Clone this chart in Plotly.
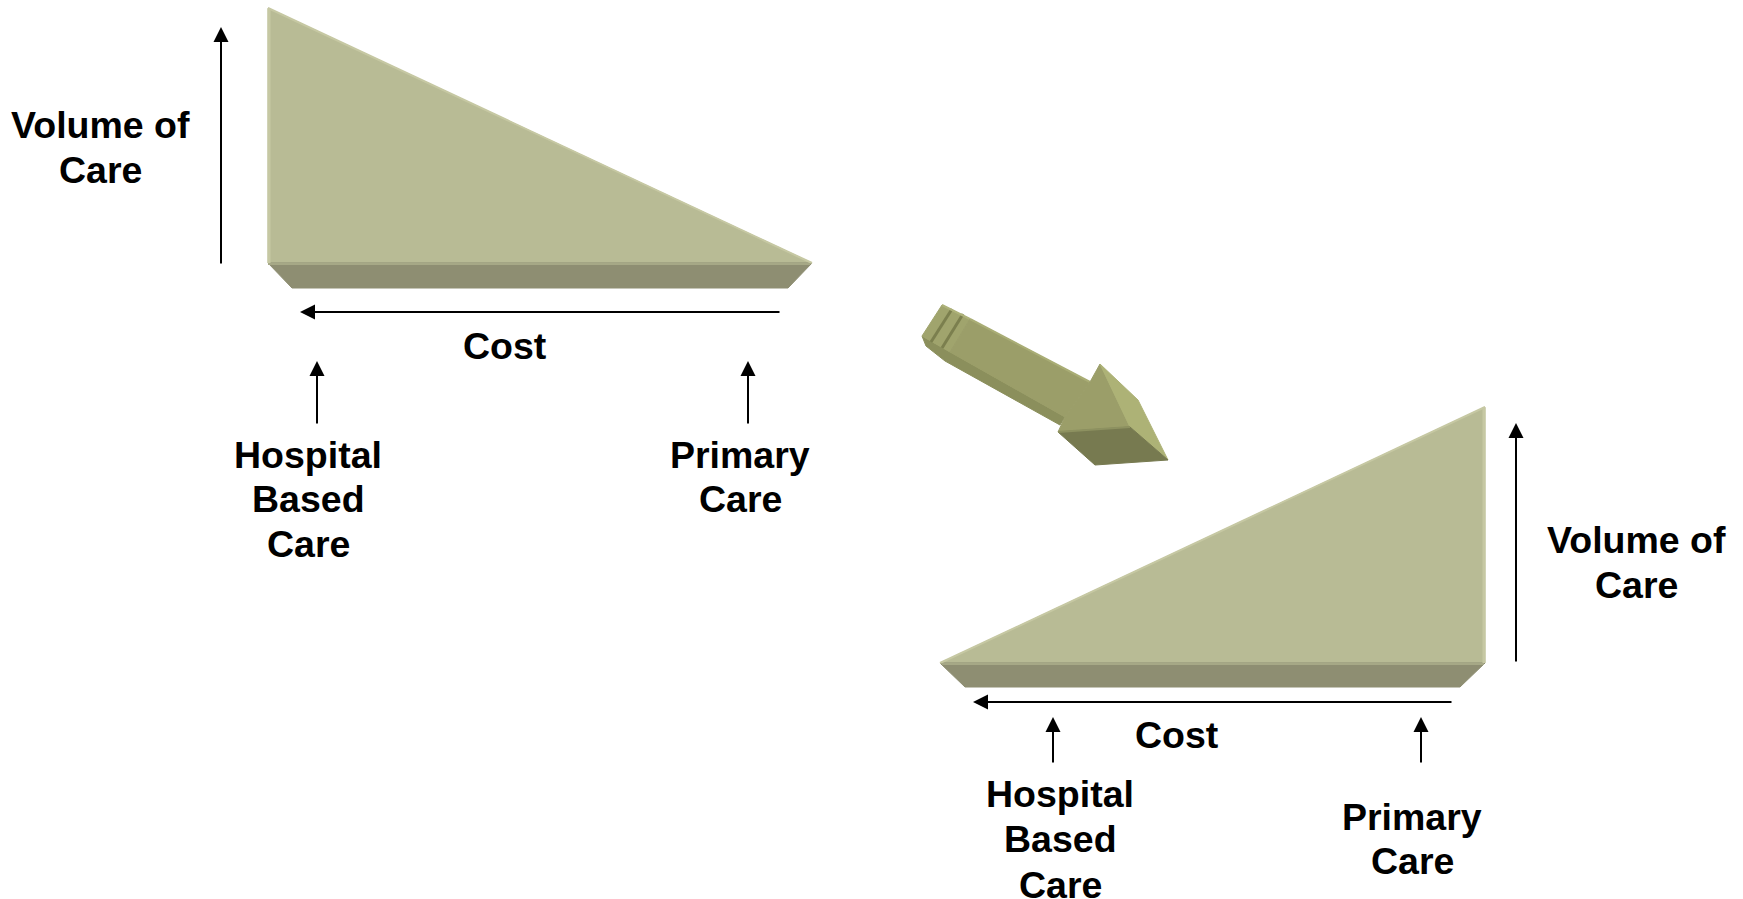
import plotly.graph_objects as go

# ---- text content ----
volume_lines = ["Volume of", "Care"]
cost_label = "Cost"
hospital_lines = ["Hospital", "Based", "Care"]
primary_lines = ["Primary", "Care"]

W, H = 1743, 899
FACE = "#b8bb95"
BASE = "#8e8e72"
EDGE = "#c6c8a3"
SHAFT = "#9b9e69"
SHAFT_SIDE = "#8b8f5c"
HEAD_RIGHT = "#adb276"
HEAD_FRONT = "#777a50"
TAIL = "#a0a46d"

fig = go.Figure()


def poly(pts, color, lw=1):
    xs = [p[0] for p in pts] + [pts[0][0]]
    ys = [p[1] for p in pts] + [pts[0][1]]
    fig.add_trace(go.Scatter(x=xs, y=ys, mode="lines", fill="toself",
                             fillcolor=color,
                             line=dict(color=color, width=lw),
                             hoverinfo="skip", showlegend=False))


def seg(p, q, color, lw):
    fig.add_trace(go.Scatter(x=[p[0], q[0]], y=[p[1], q[1]], mode="lines",
                             line=dict(color=color, width=lw),
                             hoverinfo="skip", showlegend=False))


# ---- triangle 1 (upper left) ----
poly([(268, 8), (812, 263), (268, 263)], FACE)
poly([(268, 263), (812, 263), (788, 288), (292, 288)], BASE)
seg((269, 9), (269, 263), EDGE, 3)
seg((268, 8), (812, 263), EDGE, 2)
seg((268, 264), (810, 264), "#a6a886", 2)

# ---- triangle 2 (lower right) ----
poly([(1485, 407), (1485, 663), (940, 663)], FACE)
poly([(940, 663), (1485, 663), (1460, 687), (965, 687)], BASE)
seg((1484, 408), (1484, 663), EDGE, 3)
seg((940, 663), (1485, 407), EDGE, 2)
seg((942, 664), (1484, 664), "#a6a886", 2)

# ---- big 3D arrow ----
# underside strip of tail and shaft
poly([(922, 336), (950, 352), (1065, 417), (1060, 425), (945, 361), (926, 346)], SHAFT_SIDE)
# tail block
poly([(942, 305), (970, 319), (950, 352), (922, 336)], TAIL)
seg((952, 309), (931, 342), "#7b7f4e", 3)
seg((963, 314), (942, 348), "#7b7f4e", 3)
seg((942, 305), (970, 319), "#aeb27a", 2)
# shaft top face
poly([(970, 319), (1090, 382), (1065, 417), (950, 352)], SHAFT)
seg((970, 319), (1090, 382), "#a9ad75", 2)
# head
poly([(1090, 382), (1100, 364), (1130, 427), (1058, 432), (1065, 417)], SHAFT)
poly([(1100, 364), (1138, 400), (1168, 460), (1130, 427)], HEAD_RIGHT)
poly([(1058, 432), (1130, 427), (1168, 460), (1095, 465)], HEAD_FRONT)
seg((1058, 432), (1130, 427), "#8d9160", 2)

# ---- black arrows ----
arrows = [
    # (tip_x, tip_y, tail_x, tail_y)
    (221, 27, 221, 265),
    (300, 312, 781, 312),
    (317, 361, 317, 425),
    (748, 361, 748, 425),
    (1516, 423, 1516, 663),
    (973, 702, 1453, 702),
    (1053, 717, 1053, 764),
    (1421, 717, 1421, 764),
]
annotations = []
for tx, ty, sx, sy in arrows:
    annotations.append(dict(x=tx, y=ty, ax=sx, ay=sy, xref="x", yref="y",
                            axref="x", ayref="y", text="", showarrow=True,
                            arrowhead=2, arrowsize=1.5, arrowwidth=2,
                            arrowcolor="black", standoff=0, startstandoff=0))

FONT = dict(family="Liberation Sans, Arial, sans-serif", size=37.5, color="black")


def add_lines(lines, x, ys):
    for t, y in zip(lines, ys):
        annotations.append(dict(x=x, y=y, xref="x", yref="y", text="<b>%s</b>" % t,
                                showarrow=False, font=FONT,
                                xanchor="center", yanchor="middle"))


add_lines(volume_lines, 100, [125, 170])
add_lines([cost_label], 505, [346])
add_lines(hospital_lines, 308, [455, 499, 544])
add_lines(primary_lines, 740, [455, 499])

add_lines(volume_lines, 1636, [540, 585])
add_lines([cost_label], 1177, [735])
add_lines(hospital_lines, 1060, [794, 839, 885])
add_lines(primary_lines, 1412, [817, 861])

fig.update_layout(
    width=W, height=H,
    margin=dict(l=0, r=0, t=0, b=0),
    paper_bgcolor="white", plot_bgcolor="white",
    xaxis=dict(range=[0, W], visible=False, fixedrange=True),
    yaxis=dict(range=[H, 0], visible=False, fixedrange=True),
    annotations=annotations,
    showlegend=False,
)

fig.write_html("out.html", config={"displayModeBar": False})
